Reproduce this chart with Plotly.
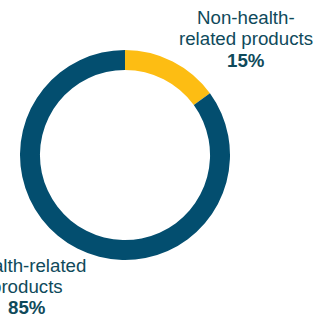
import plotly.graph_objects as go

categories = ["Non-health-related products", "Health-related products"]
values = [15, 85]
colors = ["#FDBD13", "#034E6F"]
label_lines = [["Non-health-", "related products"], ["Health-related", "products"]]

W, H = 315, 316
fig = go.Figure(go.Pie(
    labels=categories, values=values, sort=False, direction="clockwise", rotation=0,
    hole=0.81, textinfo="none", hoverinfo="label+percent",
    marker=dict(colors=colors, line=dict(width=0)),
    domain=dict(x=[20 / W, 230 / W], y=[1 - 260 / H, 1 - 50 / H]),
    showlegend=False,
))

txt = "#0F4A5B"
font = dict(family="Liberation Sans, Arial, sans-serif", size=18.7, color=txt)
# label anchor (center x, top-line middle y) in pixels
anchors = [(246, 17.5), (27, 265)]
annots = []
for lines, v, (cx, cy) in zip(label_lines, values, anchors):
    items = lines + [f"<b>{v}%</b>"]
    for i, t in enumerate(items):
        annots.append(dict(text=t, x=cx / W, y=1 - (cy + i * 21.3) / H, xref="paper", yref="paper",
                           xanchor="center", yanchor="middle", showarrow=False, font=font))

fig.update_layout(width=W, height=H, margin=dict(l=0, r=0, t=0, b=0),
                  paper_bgcolor="white", plot_bgcolor="white", annotations=annots)
fig.write_html("out.html", config={"displayModeBar": False},
               post_script="document.body.style.margin='0';document.body.style.overflow='hidden';")
